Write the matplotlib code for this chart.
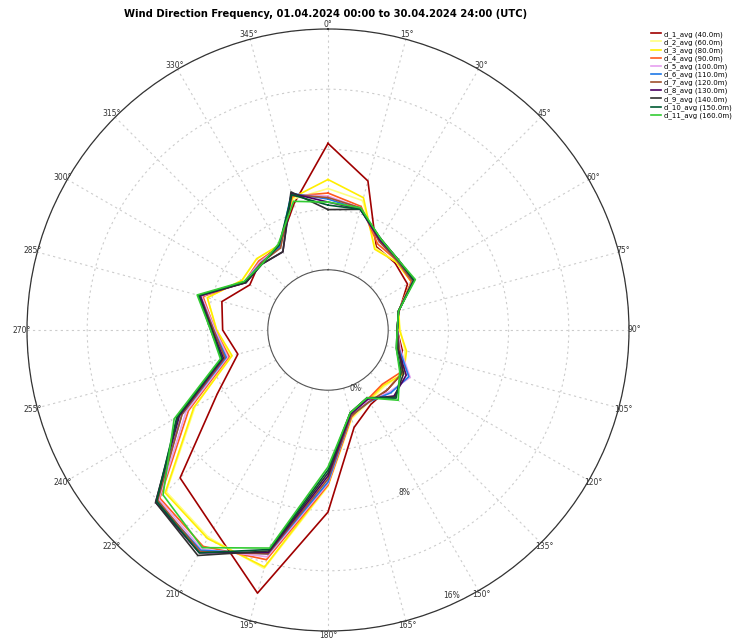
import numpy as np
import matplotlib
matplotlib.use('Agg')
from matplotlib import pyplot as plt

# wind direction sectors (deg, clockwise from north)
directions = [0, 15, 30, 45, 60, 75, 90, 105, 120, 135, 150, 165,
              180, 195, 210, 225, 240, 255, 270, 285, 300, 315, 330, 345]

# frequency in % per sector, one list per sensor height
d_1 = [8.4, 6.25, 2.4, 2.3, 2.1, 0.9, 0.6, 1.1, 1.7, 1.6, 1.7, 2.7,
       8.1, 14.1, 11.2, 9.9, 4.5, 2.2, 3.0, 3.3, 2.0, 2.4, 2.5, 4.7]
d_2 = [5.4, 4.9, 2.3, 2.4, 2.4, 0.85, 0.8, 1.3, 1.8, 1.3, 1.5, 2.1,
       6.4, 12.4, 11.9, 11.2, 6.2, 2.7, 3.4, 4.3, 2.6, 2.7, 2.5, 5.0]
d_3 = [6.0, 5.1, 2.2, 2.4, 2.4, 0.85, 0.75, 1.4, 1.8, 1.2, 1.4, 2.0,
       6.3, 12.3, 12.0, 11.3, 6.3, 2.6, 3.4, 4.3, 2.6, 2.7, 2.5, 5.1]
d_4 = [5.1, 4.5, 2.6, 2.5, 2.4, 0.85, 0.6, 1.0, 1.6, 1.1, 1.3, 2.0,
       6.3, 11.8, 12.6, 11.8, 6.7, 2.8, 3.5, 4.6, 2.4, 2.5, 2.4, 5.2]
d_5 = [4.9, 4.4, 2.8, 2.5, 2.5, 0.85, 0.6, 1.0, 2.3, 1.8, 1.4, 1.9,
       6.2, 11.6, 12.8, 11.9, 6.9, 2.9, 3.5, 4.7, 2.4, 2.4, 2.4, 5.3]
d_6 = [4.7, 4.3, 2.9, 2.5, 2.5, 0.85, 0.6, 0.9, 2.2, 1.9, 1.5, 1.9,
       6.1, 11.4, 12.9, 12.1, 7.2, 3.0, 3.6, 4.8, 2.4, 2.3, 2.4, 5.4]
d_7 = [4.8, 4.4, 2.8, 2.5, 2.5, 0.85, 0.6, 0.9, 1.7, 1.6, 1.5, 1.9,
       5.9, 11.4, 13.0, 12.0, 7.2, 3.1, 3.6, 4.8, 2.3, 2.3, 2.3, 5.3]
d_8 = [4.5, 4.3, 2.9, 2.6, 2.6, 0.85, 0.6, 0.8, 2.0, 2.2, 1.3, 1.8,
       5.7, 11.3, 13.1, 12.2, 7.4, 3.2, 3.7, 4.8, 2.3, 2.2, 2.0, 5.4]
d_9 = [4.0, 4.3, 3.0, 2.6, 2.6, 0.85, 0.6, 0.8, 1.8, 2.3, 1.2, 1.7,
       5.5, 11.2, 13.3, 12.2, 7.5, 3.3, 3.7, 4.9, 2.3, 2.2, 2.0, 5.5]
d_10 = [4.3, 4.3, 3.0, 2.6, 2.6, 0.85, 0.6, 0.7, 1.6, 2.4, 1.2, 1.7,
        5.3, 11.1, 13.1, 12.1, 7.6, 3.3, 3.8, 4.9, 2.4, 2.2, 2.5, 5.3]
d_11 = [4.5, 4.4, 3.0, 2.6, 2.7, 0.85, 0.6, 0.7, 1.5, 2.6, 1.2, 1.7,
        5.1, 11.0, 12.7, 11.5, 7.8, 3.4, 3.8, 5.0, 2.45, 2.2, 2.6, 4.85]

series = [d_1, d_2, d_3, d_4, d_5, d_6, d_7, d_8, d_9, d_10, d_11]
labels = ['d_1_avg (40.0m)', 'd_2_avg (60.0m)', 'd_3_avg (80.0m)', 'd_4_avg (90.0m)',
          'd_5_avg (100.0m)', 'd_6_avg (110.0m)', 'd_7_avg (120.0m)', 'd_8_avg (130.0m)',
          'd_9_avg (140.0m)', 'd_10_avg (150.0m)', 'd_11_avg (160.0m)']
colors = ['#a00000', '#ffff80', '#ffee00', '#ff5a1e', '#e6a0f0', '#1e78e6',
          '#a0522d', '#4b0064', '#303030', '#005a32', '#33cc33']

r_ticks = [0, 4, 8, 12, 16]
r_labels = ['0%', '', '8%', '', '16%']

fig = plt.figure(figsize=(7.34, 6.41), dpi=100)
ax = fig.add_axes([27/734, 10/641, 602/734, 602/641], projection='polar')
ax.set_theta_zero_location('N')
ax.set_theta_direction(-1)

theta = np.deg2rad(directions + [directions[0]])
for vals, lab, col in zip(series, labels, colors):
    ax.plot(theta, vals + [vals[0]], color=col, lw=1.2, label=lab)

ax.set_rlim(0, 16)
ax.set_rorigin(-4)
ax.set_rticks(r_ticks)
ax.set_yticklabels([])
# radial % labels along the 155 deg ray
for t, s in zip(r_ticks, r_labels):
    if s:
        rr = min(t + 0.3, 15.5) if t < 8 else min(t - 0.05, 15.5)
        ax.text(np.deg2rad(155), rr, s, fontsize=5.5, color='#333333',
                ha='center', va='center')
ax.set_thetagrids(directions, [str(d) + '\u00b0' for d in directions],
                  fontsize=5.5, color='#333333')
ax.tick_params(axis='x', pad=-7)
ax.grid(True, color='#cccccc', linestyle=(0, (2, 3)), lw=0.8)
ax.spines['polar'].set_color('#333333')
ax.spines['polar'].set_linewidth(0.9)
ax.spines['inner'].set_color('#555555')
ax.spines['inner'].set_linewidth(0.8)

fig.text(326/734, 1 - 14/641, 'Wind Direction Frequency, 01.04.2024 00:00 to 30.04.2024 24:00 (UTC)',
         ha='center', va='center', fontsize=7.2, fontweight='bold')

fig.legend(loc='upper left', bbox_to_anchor=(648/734, 1 - 28/641), frameon=False,
           fontsize=5, handlelength=1.5, handletextpad=0.4, labelspacing=0.2,
           borderaxespad=0)

fig.savefig('out.png', dpi=100)
